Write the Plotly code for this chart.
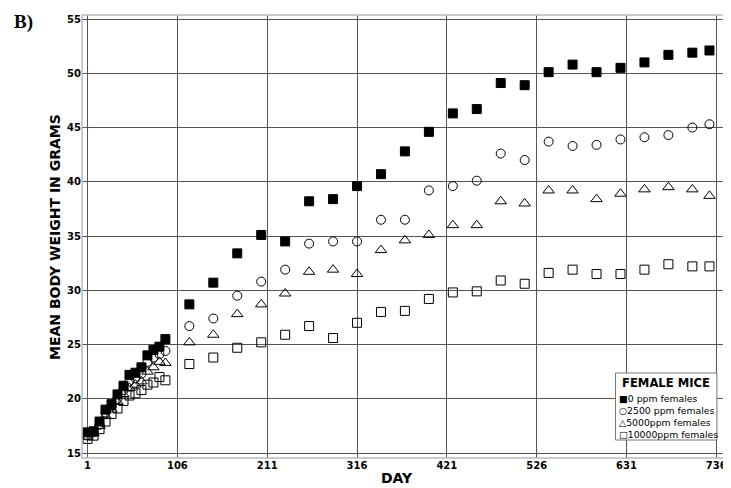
import plotly.graph_objects as go

# sampling days: weekly for the first 14 weeks, then every 4 weeks
days = [1, 8, 15, 22, 29, 36, 43, 50, 57, 64, 71, 78, 85, 92,
        120, 148, 176, 204, 232, 260, 288, 316, 344, 372, 400, 428,
        456, 484, 512, 540, 568, 596, 624, 652, 680, 708, 728]

ppm0 = [16.9, 17.0, 17.9, 19.0, 19.5, 20.4, 21.2, 22.2, 22.4, 22.9, 24.0, 24.5, 24.8, 25.5,
        28.7, 30.7, 33.4, 35.1, 34.5, 38.2, 38.4, 39.6, 40.7, 42.8, 44.6, 46.3,
        46.7, 49.1, 48.9, 50.1, 50.8, 50.1, 50.5, 51.0, 51.7, 51.9, 52.1]
ppm2500 = [16.6, 16.9, 17.6, 18.7, 19.3, 20.0, 20.8, 21.6, 21.9, 22.3, 23.4, 23.8, 24.1, 24.4,
           26.7, 27.4, 29.5, 30.8, 31.9, 34.3, 34.5, 34.5, 36.5, 36.5, 39.2, 39.6,
           40.1, 42.6, 42.0, 43.7, 43.3, 43.4, 43.9, 44.1, 44.3, 45.0, 45.3]
ppm5000 = [16.5, 16.8, 17.5, 18.4, 19.0, 19.7, 20.4, 21.0, 21.3, 21.6, 22.5, 22.9, 23.4, 23.3,
           25.2, 25.9, 27.8, 28.7, 29.7, 31.7, 31.9, 31.5, 33.7, 34.6, 35.1, 36.0,
           36.0, 38.2, 38.0, 39.2, 39.2, 38.4, 38.9, 39.3, 39.5, 39.3, 38.7]
ppm10000 = [16.3, 16.6, 17.2, 17.9, 18.6, 19.1, 19.8, 20.3, 20.5, 20.8, 21.3, 21.5, 22.0, 21.7,
            23.2, 23.8, 24.7, 25.2, 25.9, 26.7, 25.6, 27.0, 28.0, 28.1, 29.2, 29.8,
            29.9, 30.9, 30.6, 31.6, 31.9, 31.5, 31.5, 31.9, 32.4, 32.2, 32.2]

x_ticks = [1, 106, 211, 316, 421, 526, 631, 736]
y_ticks = [15, 20, 25, 30, 35, 40, 45, 50, 55]

legend_title = "FEMALE MICE"
legend_lines = ["■0 ppm females", "○2500 ppm females", "△5000ppm females", "□10000ppm females"]

fig = go.Figure()

def add(vals, name, symbol, fill):
    fig.add_trace(go.Scatter(
        x=days, y=vals, mode="markers", name=name, showlegend=False,
        marker=dict(symbol=symbol, size=9 if symbol != "triangle-up-open" else 10,
                    color=fill, line=dict(color="black", width=1))))

add(ppm10000, "10000ppm females", "square-open", "black")
add(ppm5000, "5000ppm females", "triangle-up-open", "black")
add(ppm2500, "2500 ppm females", "circle-open", "black")
add(ppm0, "0 ppm females", "square", "black")

font_b = "DejaVu Sans"

fig.update_xaxes(range=[-5.5, 745], tickvals=x_ticks, showgrid=True, gridcolor="#555",
                 gridwidth=1, zeroline=False, showline=False,
                 tickfont=dict(family=font_b, size=10, color="black", weight="bold"))
fig.update_yaxes(range=[14.54, 55.37], tickvals=y_ticks, showgrid=True, gridcolor="#555",
                 gridwidth=1, zeroline=False, showline=False,
                 tickfont=dict(family=font_b, size=10, color="black", weight="bold"))

fig.add_shape(type="rect", xref="paper", yref="paper", x0=0, x1=1, y0=0, y1=1,
              line=dict(color="#bbb", width=1.5))
# legend box
fig.add_shape(type="rect", xref="paper", yref="paper", x0=0.831, x1=0.989, y0=0.0406, y1=0.1919,
              line=dict(color="#777", width=1), fillcolor="white", layer="above")

fig.add_annotation(text="<b>" + legend_title + "</b>", xref="paper", yref="paper",
                   x=0.910, y=0.169, showarrow=False, xanchor="center", yanchor="middle",
                   font=dict(family=font_b, size=11.6, color="black"))
fig.add_annotation(text="<br>".join(legend_lines), xref="paper", yref="paper",
                   x=0.834, y=0.0948, showarrow=False, xanchor="left", yanchor="middle",
                   align="left", font=dict(family=font_b, size=9.3, color="black"))

fig.add_annotation(text="<b>DAY</b>", xref="paper", yref="paper", x=0.49, y=-0.0451,
                   showarrow=False, xanchor="center", yanchor="middle",
                   font=dict(family=font_b, size=14, color="black"))
fig.add_annotation(text="<b>MEAN BODY WEIGHT IN GRAMS</b>", xref="paper", yref="paper",
                   x=-0.0419, y=0.499, showarrow=False, textangle=-90,
                   xanchor="center", yanchor="middle",
                   font=dict(family=font_b, size=14, color="black"))
fig.add_annotation(text="<b>B)</b>", xref="paper", yref="paper", x=-0.1085, y=0.984,
                   showarrow=False, xanchor="left", yanchor="middle",
                   font=dict(family="Liberation Serif", size=19, color="black"))

# page body has an 8px margin, so the figure is drawn 8px smaller
fig.update_layout(width=723, height=480, margin=dict(l=74, r=4, t=7, b=30),
                  plot_bgcolor="white", paper_bgcolor="white")

fig.write_html("out.html")
